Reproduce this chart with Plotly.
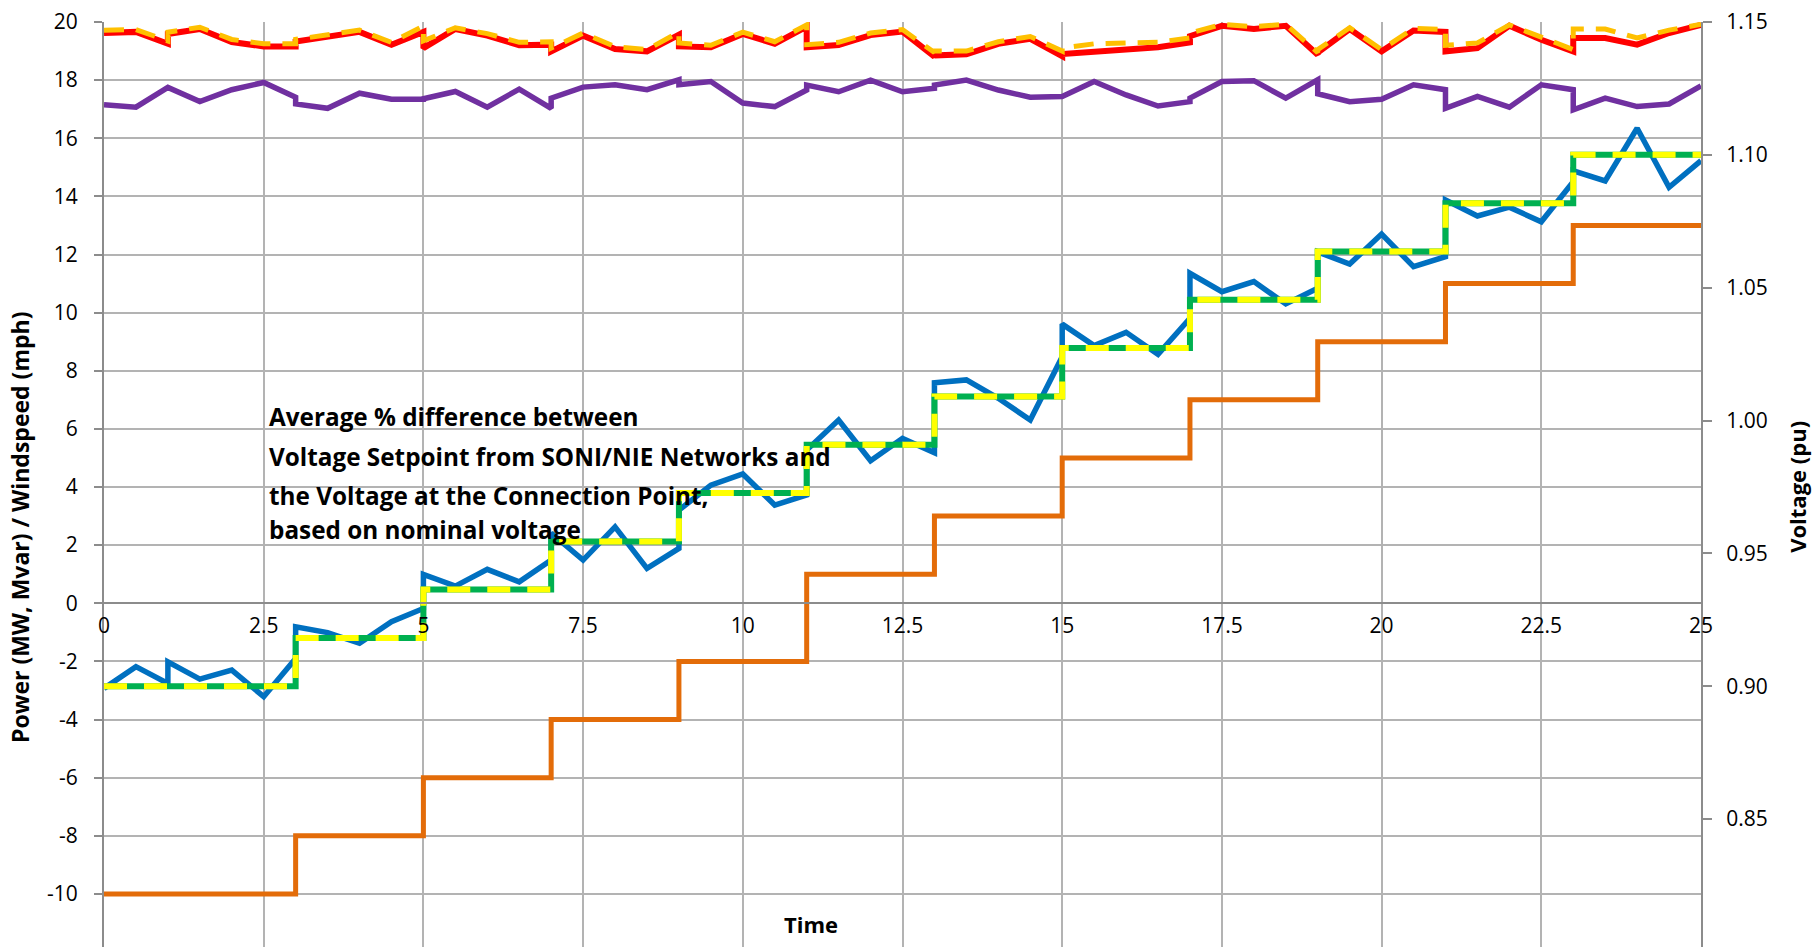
import plotly.graph_objects as go

# ---------------- data ----------------
time = [0, 0.5, 1, 1, 1.5, 2, 2.5, 3, 3, 3.5, 4, 4.5, 5, 5, 5.5, 6, 6.5, 7, 7, 7.5, 8, 8.5,
        9, 9, 9.5, 10, 10.5, 11, 11, 11.5, 12, 12.5, 13, 13, 13.5, 14, 14.5, 15, 15, 15.5,
        16, 16.5, 17, 17, 17.5, 18, 18.5, 19, 19, 19.5, 20, 20.5, 21, 21, 21.5, 22, 22.5,
        23, 23, 23.5, 24, 24.5, 25]

# Voltage at connection point (pu) - right axis
voltage_cp = [0.8992, 0.9074, 0.9011, 0.9092, 0.9027, 0.9061, 0.8961, 0.9105, 0.9224, 0.9202,
              0.9162, 0.9243, 0.9293, 0.9421, 0.9377, 0.9440, 0.9393, 0.9475, 0.9576, 0.9475,
              0.9600, 0.9444, 0.9519, 0.9663, 0.9757, 0.9799, 0.9682, 0.9720, 0.9889, 1.0002,
              0.9849, 0.9933, 0.9879, 1.0142, 1.0153, 1.0084, 1.0002, 1.0240, 1.0363, 1.0282,
              1.0332, 1.0249, 1.0385, 1.0554, 1.0485, 1.0523, 1.0439, 1.0498, 1.0635, 1.0589,
              1.0702, 1.0579, 1.0617, 1.0830, 1.0770, 1.0803, 1.0748, 1.0899, 1.0940, 1.0902,
              1.1100, 1.0878, 1.0978]

# Voltage setpoint (pu) - step values - right axis
setpoint_time = [0, 3, 5, 7, 9, 11, 13, 15, 17, 19, 21, 23, 25]
voltage_setpoint = [0.9000, 0.9182, 0.9364, 0.9545, 0.9727, 0.9909, 1.0091, 1.0273,
                    1.0455, 1.0636, 1.0818, 1.1000, 1.1000]

# Stepped series (left axis)
step_series = [-10, -8, -6, -4, -2, 1, 3, 5, 7, 9, 11, 13, 13]

# Active power measured (left axis)
power_measured = [19.62, 19.66, 19.25, 19.59, 19.76, 19.31, 19.16, 19.16, 19.33, 19.50,
                  19.66, 19.22, 19.66, 19.10, 19.76, 19.53, 19.20, 19.22, 18.99, 19.53,
                  19.07, 18.99, 19.56, 19.16, 19.13, 19.59, 19.25, 19.84, 19.13, 19.21,
                  19.55, 19.67, 18.81, 18.85, 18.89, 19.25, 19.42, 18.82, 18.90, 18.99,
                  19.07, 19.13, 19.30, 19.51, 19.87, 19.76, 19.87, 18.87, 18.95, 19.76,
                  18.99, 19.71, 19.66, 18.99, 19.10, 19.87, 19.39, 18.99, 19.45, 19.45,
                  19.22, 19.62, 19.90]

# Available power (left axis, dashed)
power_available = [19.72, 19.74, 19.35, 19.65, 19.82, 19.40, 19.25, 19.25, 19.40, 19.58,
                   19.72, 19.30, 19.86, 19.35, 19.80, 19.60, 19.30, 19.32, 19.10, 19.62,
                   19.15, 19.05, 19.65, 19.28, 19.20, 19.65, 19.32, 19.90, 19.22, 19.30,
                   19.62, 19.74, 18.95, 19.00, 19.00, 19.32, 19.50, 19.00, 19.10, 19.25,
                   19.28, 19.30, 19.45, 19.62, 19.92, 19.84, 19.92, 18.95, 19.05, 19.80,
                   19.05, 19.78, 19.74, 19.20, 19.28, 19.90, 19.48, 19.05, 19.76, 19.76,
                   19.45, 19.72, 19.92]

# Windspeed (left axis)
windspeed = [17.15, 17.07, 17.75, 17.75, 17.26, 17.67, 17.92, 17.41, 17.18, 17.03,
             17.55, 17.34, 17.34, 17.36, 17.61, 17.07, 17.69, 17.03, 17.38, 17.76,
             17.84, 17.67, 18.01, 17.84, 17.95, 17.21, 17.09, 17.66, 17.83, 17.60,
             18.00, 17.60, 17.72, 17.83, 18.00, 17.66, 17.41, 17.44, 17.44, 17.95,
             17.49, 17.11, 17.26, 17.38, 17.95, 17.98, 17.38, 18.01, 17.53, 17.26,
             17.34, 17.84, 17.67, 17.03, 17.44, 17.07, 17.84, 17.67, 16.98, 17.38,
             17.09, 17.18, 17.80]

left_tickvals = [-12, -10, -8, -6, -4, -2, 0, 2, 4, 6, 8, 10, 12, 14, 16, 18, 20]
left_ticktext = ["-12", "-10", "-8", "-6", "-4", "-2", "0", "2", "4", "6", "8", "10",
                 "12", "14", "16", "18", "20"]
right_tickvals = [0.80, 0.85, 0.90, 0.95, 1.00, 1.05, 1.10, 1.15]
x_tickvals = [0, 2.5, 5, 7.5, 10, 12.5, 15, 17.5, 20, 22.5, 25]

annotation_lines = ["Average % difference between",
                    "Voltage Setpoint from SONI/NIE Networks and",
                    "the Voltage at the Connection Point,",
                    "based on nominal voltage"]
annotation_y = [0.5756, 0.5326, 0.4907, 0.4541]

FONT = "Open Sans"
GRID = "#B3B3B3"
AXIS = "#8C8C8C"

fig = go.Figure()

fig.add_trace(go.Scatter(x=setpoint_time, y=step_series, mode="lines", line_shape="hv",
                         line=dict(color="#E36C09", width=5), name="Step"))
fig.add_trace(go.Scatter(x=time, y=voltage_cp, mode="lines", yaxis="y2",
                         line=dict(color="#0070C0", width=5.5), name="Voltage at Connection Point"))
fig.add_trace(go.Scatter(x=setpoint_time, y=voltage_setpoint, mode="lines", yaxis="y2",
                         line_shape="hv", line=dict(color="#00B050", width=6),
                         name="Voltage Setpoint"))
fig.add_trace(go.Scatter(x=setpoint_time, y=voltage_setpoint, mode="lines", yaxis="y2",
                         line_shape="hv", line=dict(color="#FFFF00", width=6, dash="23px,17px"),
                         showlegend=False))
fig.add_trace(go.Scatter(x=time, y=windspeed, mode="lines",
                         line=dict(color="#7030A0", width=5.5), name="Windspeed"))
fig.add_trace(go.Scatter(x=time, y=power_measured, mode="lines",
                         line=dict(color="#FF0000", width=6), name="Active Power"))
fig.add_trace(go.Scatter(x=time, y=power_available, mode="lines",
                         line=dict(color="#FFC000", width=5, dash="20px,12px"),
                         name="Available Power"))

fig.update_layout(
    width=1818, height=952,
    margin=dict(l=104, r=117, t=22, b=0),
    paper_bgcolor="white", plot_bgcolor="white",
    showlegend=False,
    font=dict(family=FONT, size=21, color="#000000"),
    xaxis=dict(range=[0, 25], tickvals=x_tickvals, showgrid=True, gridcolor=GRID, gridwidth=1.5,
               zeroline=False, showline=True, linecolor=AXIS, linewidth=2, automargin=False,
               anchor="free", position=0.375, ticks="", ticklabelstandoff=4,
               tickfont=dict(size=21)),
    yaxis=dict(range=[-12, 20], tickvals=left_tickvals, ticktext=left_ticktext,
               showgrid=True, gridcolor=GRID, gridwidth=1.5, zeroline=False, automargin=False,
               showline=True, linecolor=AXIS, linewidth=2, ticks="outside", ticklen=8,
               tickcolor=AXIS, tickwidth=1.5, ticklabelstandoff=12, tickfont=dict(size=21)),
    yaxis2=dict(range=[0.80, 1.15], tickvals=right_tickvals, tickformat=".2f",
                overlaying="y", side="right", showgrid=False, zeroline=False, automargin=False,
                showline=True, linecolor=AXIS, linewidth=2, ticks="outside", ticklen=9,
                tickcolor=AXIS, tickwidth=1.5, ticklabelstandoff=10, tickfont=dict(size=21)),
)

for txt, yy in zip(annotation_lines, annotation_y):
    fig.add_annotation(text="<b>" + txt + "</b>", x=0.1018, y=yy, xref="paper", yref="paper",
                       xanchor="left", yanchor="middle", showarrow=False,
                       font=dict(family=FONT, size=24.3, color="#000000"))

fig.add_annotation(text="<b>Power (MW, Mvar) / Windspeed (mph)</b>", x=-0.0526, y=0.457,
                   xref="paper", yref="paper", textangle=-90, showarrow=False,
                   xanchor="center", yanchor="middle",
                   font=dict(family=FONT, size=23, color="#000000"))
fig.add_annotation(text="<b>Voltage (pu)</b>", x=1.060, y=0.5, xref="paper", yref="paper",
                   textangle=-90, showarrow=False, xanchor="center", yanchor="middle",
                   font=dict(family=FONT, size=22, color="#000000"))
fig.add_annotation(text="<b>Time</b>", x=0.443, y=0.030, xref="paper", yref="paper",
                   showarrow=False, xanchor="center", yanchor="middle",
                   font=dict(family=FONT, size=22, color="#000000"))

fig.write_html(
    "out.html",
    config={"displayModeBar": False},
    post_script="document.body.style.margin='0';document.body.style.overflow='hidden';"
                "document.documentElement.style.overflow='hidden';",
)
